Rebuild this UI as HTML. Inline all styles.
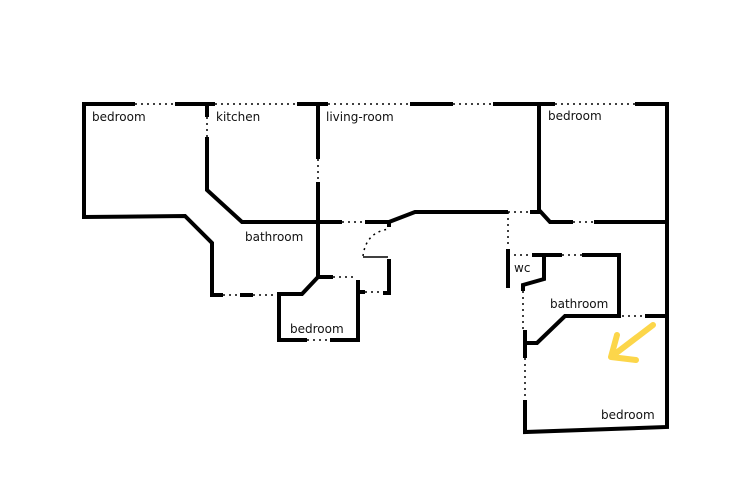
<!DOCTYPE html>
<html><head><style>html,body{margin:0;padding:0;background:#fff}svg{display:block}text{font-family:"DejaVu Sans","Liberation Sans",sans-serif;font-size:12px;fill:#111}</style></head>
<body>
<svg width="750" height="500" viewBox="0 0 750 500" xmlns="http://www.w3.org/2000/svg">
<g fill="none" stroke="#000" stroke-width="4" stroke-linejoin="miter" stroke-linecap="butt">
<!-- top wall solids -->
<path d="M84 104H135M175 104H215M297 104H328M410 104H453M493 104H555M635 104H668"/>
<!-- left bedroom -->
<path d="M84 102V217L185 216L212 243V295H223"/>
<path d="M240 295H253"/>
<!-- kitchen wall -->
<path d="M207 104V117M207 137V190L242 222H342M365 222H389L415 212H508"/>
<path d="M389 221V227"/>
<!-- living room wall -->
<path d="M318 104V159M318 182V277H333"/>
<path d="M318 277L302 294H279V340H307M330 340H360"/>
<path d="M358 280V340M358 292H365M389 259V293H383"/>
<!-- right bedroom -->
<path d="M539 104V210L550 222H573M594 222H667"/>
<path d="M530 212H541"/>
<path d="M667 102V427L525 432V400"/>
<!-- wc/bathroom -->
<path d="M508 249V288"/>
<path d="M532 255H562M582 255H619V316H565L537 343H525M525 330V358"/>
<path d="M544 256V279L523 285V291"/>
<path d="M645 316H667"/>
</g>
<g fill="none" stroke="#000" stroke-width="1.5" stroke-dasharray="2 4">
<path d="M135 104H175M215 104H297M328 104H410M453 104H493M555 104H635"/>
<path d="M207 117V137M318 159V182M342 222H365M333 277H355M307 340H330M365 292H385M223 295H240M253 295H279"/>
<path d="M508 212V247M508 212H530M573 222H594M508 255H532M562 255H582M523 291V330M525 358V400M622 316H645"/>
<path d="M363 256Q366 232 389 229"/>
</g>
<path d="M363 257H388" stroke="#000" stroke-width="1.5"/>
<g fill="none" stroke="#fcd64a" stroke-width="6" stroke-linecap="round" stroke-linejoin="round">
<path d="M653 325L611 357M617 335L611 357L636 360"/>
</g>
<text x="92" y="121">bedroom</text>
<text x="216" y="121">kitchen</text>
<text x="326" y="121">living-room</text>
<text x="548" y="120">bedroom</text>
<text x="245" y="241">bathroom</text>
<text x="290" y="333">bedroom</text>
<text x="514" y="272">wc</text>
<text x="550" y="308">bathroom</text>
<text x="601" y="419">bedroom</text>
</svg>
</body></html>
